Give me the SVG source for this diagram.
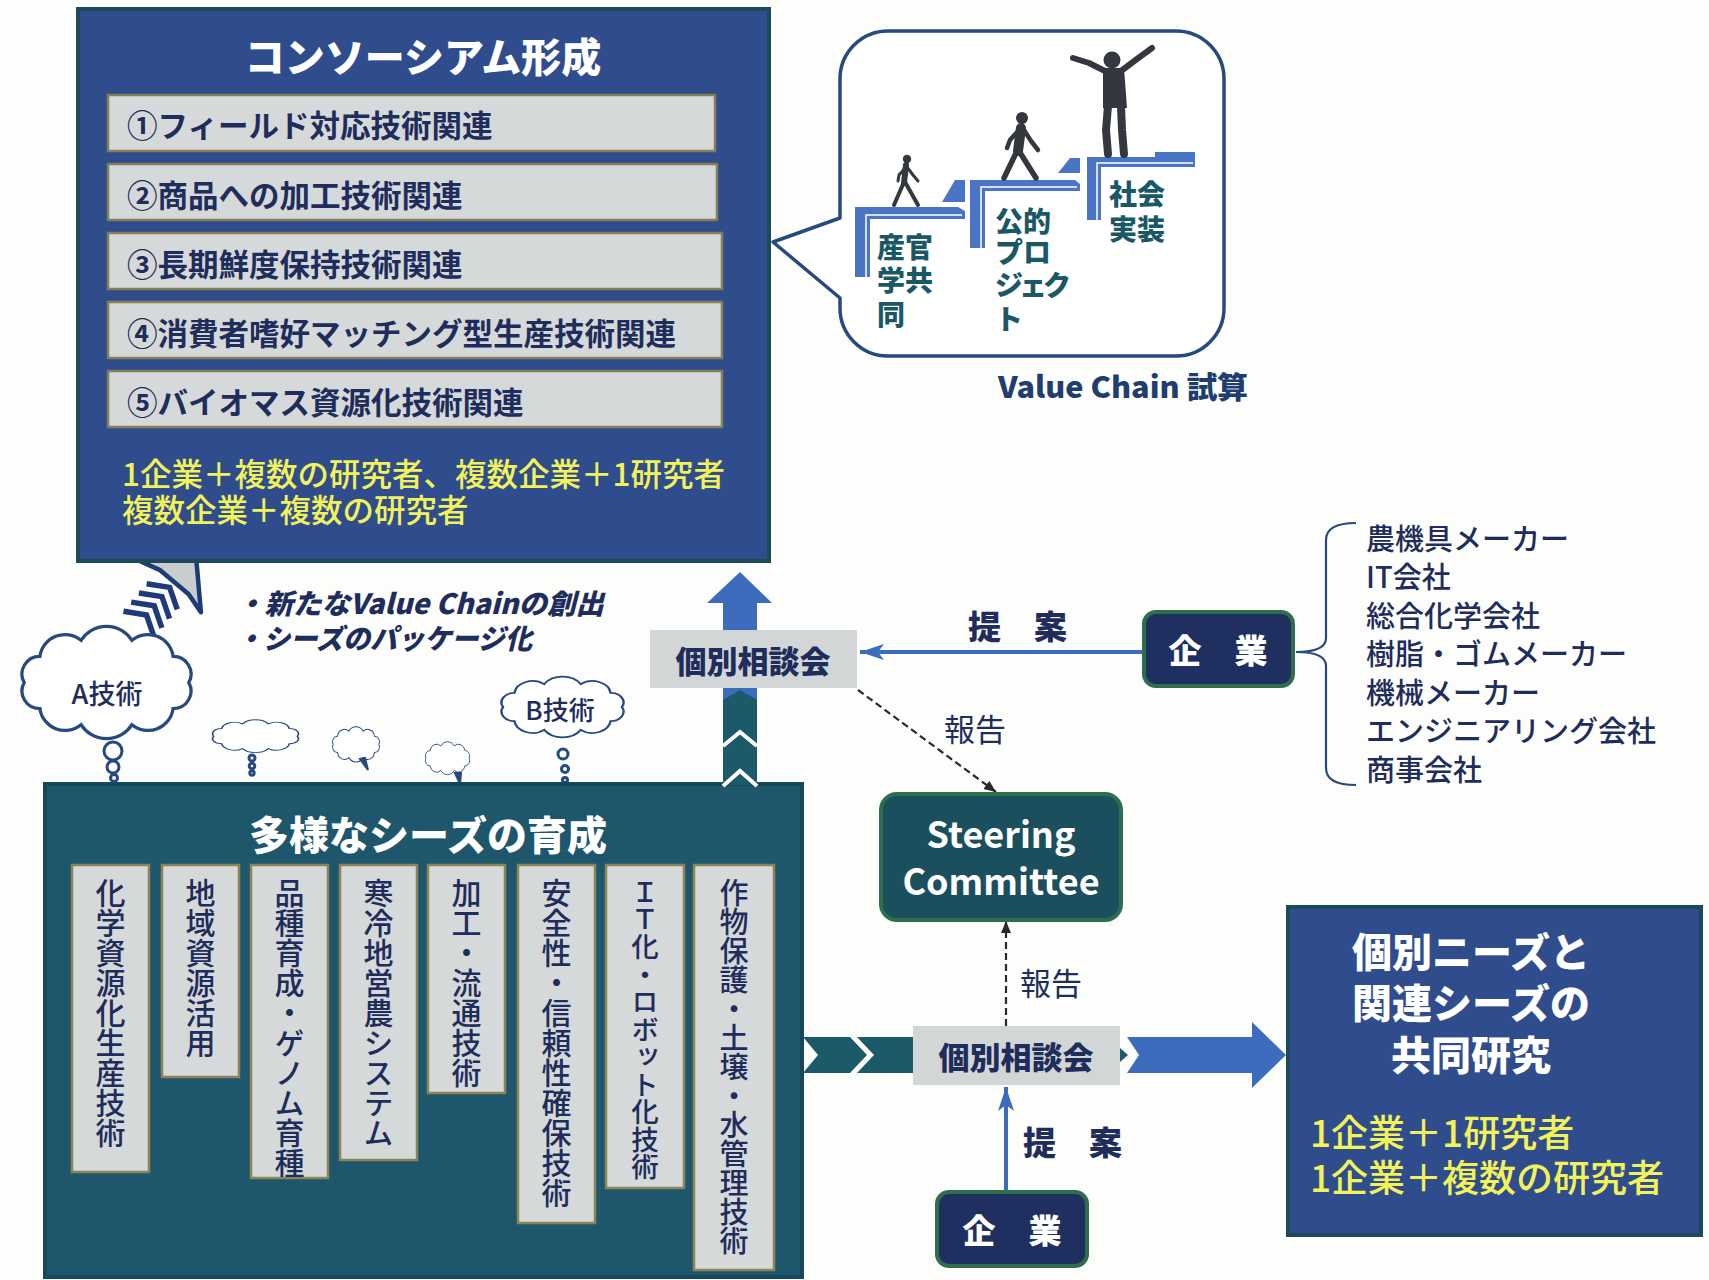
<svg xmlns="http://www.w3.org/2000/svg" width="1709" height="1280" viewBox="0 0 1709 1280">
<defs>
<style>
text { font-family: "Noto Sans CJK JP", "Noto Sans", sans-serif; }
.panel-blue { fill:#2f4d8c; stroke:#1d4a5a; stroke-width:4; }
.panel-teal { fill:#1e566c; stroke:#17475a; stroke-width:4; }
.title { fill:#fff; font-size:40px; font-weight:900; text-anchor:middle; dominant-baseline:central; }
.bar { fill:#d6d9d9; stroke:#857f55; stroke-width:2.5; }
.bartxt { fill:#1f2d5c; font-size:30.5px; font-weight:700; dominant-baseline:central; }
.yel { fill:#f2f25a; font-weight:500; dominant-baseline:central; }
.card { fill:#d6d9d9; stroke:#8a8457; stroke-width:2.5; }
.vt { fill:#1f2d5c; font-size:30px; font-weight:500; writing-mode:vertical-rl; }
.vt-small { font-size:27.5px; }
.vt-long { font-size:29px; }
.list { fill:#1f2d5c; font-size:29px; font-weight:500; dominant-baseline:central; }
.navy { fill:#1f2d5c; }
.step { fill:#4a74c4; }
.steptxt { fill:#1b5866; font-size:28px; font-weight:900; dominant-baseline:central; }
.person { stroke:#34383e; stroke-linecap:round; stroke-linejoin:round; fill:none; }
.cloud { fill:#fff; stroke:#264a7e; stroke-width:3.5; vector-effect:non-scaling-stroke; }
.bubble-dot { fill:#fff; stroke:#264a7e; stroke-width:3; }
.sodan { fill:#d3d6d6; }
.sodantxt { fill:#1f2d5c; font-size:31px; font-weight:900; text-anchor:middle; dominant-baseline:central; }
.kigyo { fill:#1f2f60; stroke:#2f6e4d; stroke-width:4; }
.kigyotxt { fill:#fff; font-size:33px; font-weight:900; text-anchor:middle; dominant-baseline:central; }
.block-blue { fill:#3d6cbc; }
.block-teal { fill:#1c5a6a; }
.propose { stroke:#3d6cbc; stroke-width:4; fill:none; }
.report { stroke:#2a2a2a; stroke-width:2.2; stroke-dasharray:7 4; fill:none; }
.lbl { fill:#1f2d5c; dominant-baseline:central; }
</style>
<marker id="head-blue" markerUnits="userSpaceOnUse" markerWidth="26" markerHeight="18" refX="24" refY="8" orient="auto">
  <path d="M0,0 L24,8 L0,16 L6,8 Z" fill="#3d6cbc"/>
</marker>
<marker id="head-dark" markerUnits="userSpaceOnUse" markerWidth="14" markerHeight="12" refX="12" refY="5" orient="auto">
  <path d="M0,0 L12,5 L0,10 Z" fill="#2a2a2a"/>
</marker>
<path id="cloud-shape" d="M12,60 A19,19 0 0 1 28.8,31.8 A27,27 0 0 1 72.8,14.4 A32,32 0 0 1 127.2,14.4 A27,27 0 0 1 171.2,31.8 A19,19 0 0 1 188,60 A19,19 0 0 1 171.2,88.2 A27,27 0 0 1 127.2,105.6 A32,32 0 0 1 72.8,105.6 A27,27 0 0 1 28.8,88.2 A19,19 0 0 1 12,60 Z"/>
</defs>

<rect width="1709" height="1280" fill="#fdfdfc"/>

<!-- striped arrow rising from the A cloud into the consortium panel -->
<g id="seed-arrow" transform="translate(196,556) rotate(40)">
  <path d="M0,0 L40,40 L19,34 L-19,34 L-40,40 Z" fill="#c9cdcd" stroke="#1f3a78" stroke-width="4.5" stroke-linejoin="round"/>
  <g fill="none" stroke="#1f3a78" stroke-width="5.5">
    <polyline points="-20,53 0,41 20,53"/>
    <polyline points="-20,65 0,53 20,65"/>
    <polyline points="-20,77 0,65 20,77"/>
    <polyline points="-20,89 0,77 20,89"/>
  </g>
</g>

<!-- consortium panel -->
<g id="consortium">
  <rect class="panel-blue" x="78" y="9" width="691" height="552"/>
  <text class="title" x="423" y="55">コンソーシアム形成</text>
  <rect class="bar" x="108" y="95" width="607" height="56"/>
  <rect class="bar" x="108" y="164" width="609" height="56"/>
  <rect class="bar" x="108" y="233" width="614" height="56"/>
  <rect class="bar" x="108" y="302" width="614" height="56"/>
  <rect class="bar" x="108" y="371" width="614" height="56"/>
  <text class="bartxt" x="127" y="124">①フィールド対応技術関連</text>
  <text class="bartxt" x="127" y="194">②商品への加工技術関連</text>
  <text class="bartxt" x="127" y="263">③長期鮮度保持技術関連</text>
  <text class="bartxt" x="127" y="332">④消費者嗜好マッチング型生産技術関連</text>
  <text class="bartxt" x="127" y="401">⑤バイオマス資源化技術関連</text>
  <text class="yel" font-size="31.5"><tspan x="122" y="472">1企業＋複数の研究者、複数企業＋1研究者</tspan><tspan x="122" y="508">複数企業＋複数の研究者</tspan></text>
</g>

<!-- value chain speech bubble with stepping figures -->
<g id="value-chain">
  <path d="M888,31 H1176 A48,48 0 0 1 1224,79 V308 A48,48 0 0 1 1176,356 H888 A48,48 0 0 1 840,308 V298 L773,242 L840,218 V79 A48,48 0 0 1 888,31 Z" fill="#fff" stroke="#264a7e" stroke-width="3.5" stroke-linejoin="round"/>
  <path class="step" d="M855,207 H958 L965,211 V219 H870 V277 H855 Z"/>
  <path class="step" d="M942,202 L955,180 H965 V202 Z"/>
  <path class="step" d="M970,180 H1075 L1080,184 V191 H985 V248 H970 Z"/>
  <path class="step" d="M1058,173 L1070,158 H1080 V173 Z"/>
  <path class="step" d="M1087,157 H1155 V152 H1195 V167 H1101 V220 H1087 Z"/>
  <g stroke="#fff" stroke-width="1.5" fill="none">
    <polyline points="866,277 866,215 962,215"/>
    <polyline points="981,248 981,187 1077,187"/>
    <polyline points="1097,220 1097,163 1193,163"/>
  </g>
  <!-- small walker -->
  <g class="person">
    <circle cx="907" cy="159" r="4.2" fill="#34383e" stroke="none"/>
    <line x1="906" y1="165" x2="904" y2="183" stroke-width="6"/>
    <polyline points="904,182 894,205" stroke-width="4"/>
    <polyline points="905,182 918,205" stroke-width="4"/>
    <polyline points="906,167 899,175 898,181" stroke-width="3"/>
    <polyline points="907,167 913,175 918,181" stroke-width="3"/>
  </g>
  <!-- walking figure -->
  <g class="person">
    <circle cx="1022" cy="118" r="6" fill="#34383e" stroke="none"/>
    <line x1="1021" y1="128" x2="1018" y2="151" stroke-width="10"/>
    <polyline points="1017,151 1004,178" stroke-width="5.5"/>
    <polyline points="1019,151 1036,178" stroke-width="5.5"/>
    <polyline points="1019,130 1010,140 1007,148" stroke-width="4.5"/>
    <polyline points="1024,130 1031,141 1038,150" stroke-width="4.5"/>
  </g>
  <!-- jumping figure -->
  <g class="person">
    <circle cx="1112" cy="60" r="8.5" fill="#34383e" stroke="none"/>
    <path d="M1103,68 H1124 L1127,108 H1103 Z" fill="#34383e" stroke="none"/>
    <polyline points="1105,71 1089,63 1073,58" stroke-width="6"/>
    <polyline points="1121,71 1137,59 1152,48" stroke-width="6"/>
    <polyline points="1108,106 1106,130 1108,154" stroke-width="8"/>
    <polyline points="1121,106 1122,130 1124,154" stroke-width="8"/>
  </g>
  <text class="steptxt"><tspan x="877" y="246">産官</tspan><tspan x="877" y="279">学共</tspan><tspan x="877" y="313">同</tspan></text>
  <text class="steptxt"><tspan x="995" y="220">公的</tspan><tspan x="995" y="251">プロ</tspan><tspan x="995" y="284" letter-spacing="-4">ジェク</tspan><tspan x="995" y="318">ト</tspan></text>
  <text class="steptxt"><tspan x="1109" y="193">社会</tspan><tspan x="1109" y="228">実装</tspan></text>
  <text x="998" y="385" fill="#1f3d6e" font-size="30" font-weight="900" dominant-baseline="central" textLength="250" lengthAdjust="spacingAndGlyphs">Value Chain 試算</text>
</g>

<!-- goals of the seed package -->
<g id="goals">
  <text class="lbl" font-size="28" font-weight="900" font-style="italic" fill="#1f3d6e"><tspan x="236" y="602" textLength="368" lengthAdjust="spacingAndGlyphs">・新たなValue Chainの創出</tspan><tspan x="236" y="637" textLength="296" lengthAdjust="spacingAndGlyphs">・シーズのパッケージ化</tspan></text>
</g>

<!-- thought clouds above the seeds panel -->
<g id="clouds">
  <use href="#cloud-shape" class="cloud" transform="translate(13,627) scale(0.935,0.925)"/>
  <text x="107" y="692" font-size="27" font-weight="500" class="navy" text-anchor="middle" dominant-baseline="central">A技術</text>
  <circle class="bubble-dot" cx="113" cy="751" r="9"/>
  <circle class="bubble-dot" cx="113" cy="767" r="6"/>
  <circle class="bubble-dot" cx="114" cy="778" r="3.5"/>

  <use href="#cloud-shape" class="cloud" transform="translate(208,720) scale(0.475,0.27)"/>
  <circle class="bubble-dot" cx="252" cy="758" r="3"/>
  <circle class="bubble-dot" cx="252" cy="766" r="2.8"/>
  <circle class="bubble-dot" cx="252" cy="773" r="2.2"/>

  <use href="#cloud-shape" class="cloud" transform="translate(330,727) scale(0.26,0.29)"/>
  <path d="M360,759 L368,770 L365,758 Z" fill="#264a7e" stroke="#264a7e" stroke-width="2"/>

  <use href="#cloud-shape" class="cloud" transform="translate(423,742) scale(0.245,0.27)"/>
  <path d="M455,773 L460,784 L461,773 Z" fill="#264a7e" stroke="#264a7e" stroke-width="2"/>

  <use href="#cloud-shape" class="cloud" transform="translate(495,677) scale(0.675,0.5)"/>
  <text x="560" y="708" font-size="26" font-weight="500" class="navy" text-anchor="middle" dominant-baseline="central">B技術</text>
  <circle class="bubble-dot" cx="563" cy="754" r="5"/>
  <circle class="bubble-dot" cx="565" cy="769" r="3.5"/>
  <circle class="bubble-dot" cx="565" cy="780" r="2.5"/>
</g>

<!-- seeds panel -->
<g id="seeds">
  <rect class="panel-teal" x="45" y="784" width="757" height="493"/>
  <text class="title" x="428" y="833">多様なシーズの育成</text>
  <rect class="card" x="72" y="865" width="77" height="307"/>
  <rect class="card" x="162" y="865" width="77" height="212"/>
  <rect class="card" x="251" y="865" width="77" height="313"/>
  <rect class="card" x="340" y="865" width="77" height="295"/>
  <rect class="card" x="428" y="865" width="77" height="228"/>
  <rect class="card" x="518" y="865" width="77" height="358"/>
  <rect class="card" x="606" y="865" width="78" height="323"/>
  <rect class="card" x="694" y="865" width="80" height="405"/>
  <text class="vt" x="110.5" y="878">化学資源化生産技術</text>
  <text class="vt" x="200.5" y="878">地域資源活用</text>
  <text class="vt" x="289.5" y="878">品種育成・ゲノム育種</text>
  <text class="vt" x="378.5" y="878">寒冷地営農システム</text>
  <text class="vt" x="466.5" y="878">加工・流通技術</text>
  <text class="vt" x="556.5" y="878">安全性・信頼性確保技術</text>
  <text class="vt vt-small" x="645" y="878">ＩＴ化・ロボット化技術</text>
  <text class="vt vt-long" x="734" y="878">作物保護・土壌・水管理技術</text>
</g>

<!-- block arrows and connector lines -->
<g id="connectors">
  <!-- up: seeds to consortium -->
  <path class="block-blue" d="M740,572 L772,603 H757 V700 H723 V603 H707 Z"/>
  <path class="block-teal" d="M723,700 L740,690 L757,700 V785 H723 Z"/>
  <g stroke="#fff" stroke-width="4" fill="none">
    <polyline points="723,746 740,732 757,746"/>
    <polyline points="723,786 740,771 757,786"/>
  </g>
  <!-- right: seeds to joint research -->
  <path class="block-teal" d="M803,1037 H850 L867,1055 L850,1073 H803 L818,1055 Z"/>
  <path class="block-teal" d="M857,1037 H915 V1073 H857 L874,1055 Z"/>
  <path class="block-teal" d="M1120,1048 L1128,1055 L1120,1062 Z"/>
  <path class="block-blue" d="M1127,1037 H1252 V1022 L1286,1055 L1252,1088 V1073 H1127 L1139,1055 Z"/>
  <!-- proposals from companies -->
  <line class="propose" x1="1144" y1="652" x2="860" y2="652" marker-end="url(#head-blue)"/>
  <line class="propose" x1="1006" y1="1192" x2="1006" y2="1087" marker-end="url(#head-blue)"/>
  <!-- reports to the steering committee -->
  <line class="report" x1="858" y1="690" x2="996" y2="792" marker-end="url(#head-dark)"/>
  <line class="report" x1="1006" y1="1026" x2="1006" y2="921" marker-end="url(#head-dark)"/>
  <text class="lbl" x="968" y="625" font-size="33" font-weight="900">提　案</text>
  <text class="lbl" x="1023" y="1141" font-size="33" font-weight="900">提　案</text>
  <text class="lbl" x="944" y="727" font-size="31" font-weight="400">報告</text>
  <text class="lbl" x="1020" y="981" font-size="31" font-weight="400">報告</text>
</g>

<!-- individual consultation (upper) -->
<g id="consult-upper">
  <rect class="sodan" x="650" y="630" width="207" height="58"/>
  <text class="sodantxt" x="753" y="659">個別相談会</text>
</g>

<!-- individual consultation (lower) -->
<g id="consult-lower">
  <rect class="sodan" x="913" y="1026" width="207" height="59"/>
  <text class="sodantxt" x="1016" y="1055">個別相談会</text>
</g>

<!-- companies -->
<g id="company-upper">
  <rect class="kigyo" x="1144" y="612" width="149" height="74" rx="12"/>
  <text class="kigyotxt" x="1218" y="649">企　業</text>
</g>
<g id="company-lower">
  <rect class="kigyo" x="937" y="1192" width="150" height="74" rx="12"/>
  <text class="kigyotxt" x="1012" y="1229">企　業</text>
</g>

<!-- company categories -->
<g id="company-list">
  <path d="M1356,523 Q1326,523 1326,540 V638 Q1326,652 1296,652 Q1326,652 1326,666 V768 Q1326,785 1356,785" fill="none" stroke="#2a4a7e" stroke-width="2.2"/>
  <text class="list"><tspan x="1366" y="537">農機具メーカー</tspan><tspan x="1366" y="575">IT会社</tspan><tspan x="1366" y="614">総合化学会社</tspan><tspan x="1366" y="652">樹脂・ゴムメーカー</tspan><tspan x="1366" y="691">機械メーカー</tspan><tspan x="1366" y="729">エンジニアリング会社</tspan><tspan x="1366" y="768">商事会社</tspan></text>
</g>

<!-- steering committee -->
<g id="steering">
  <rect x="881" y="794" width="240" height="126" rx="16" fill="#1b4f5e" stroke="#2d6e4e" stroke-width="4"/>
  <text fill="#fff" font-family="Liberation Sans, Arial, sans-serif" font-size="36" font-weight="700" text-anchor="middle"><tspan x="1001" y="848">Steering</tspan><tspan x="1001" y="895">Committee</tspan></text>
</g>

<!-- joint research panel -->
<g id="joint-research">
  <rect class="panel-blue" x="1288" y="907" width="413" height="328"/>
  <text class="title"><tspan x="1471" y="950">個別ニーズと</tspan><tspan x="1471" y="1001">関連シーズの</tspan><tspan x="1471" y="1053">共同研究</tspan></text>
  <text class="yel" font-size="37"><tspan x="1310" y="1131">1企業＋1研究者</tspan><tspan x="1310" y="1176">1企業＋複数の研究者</tspan></text>
</g>
</svg>
